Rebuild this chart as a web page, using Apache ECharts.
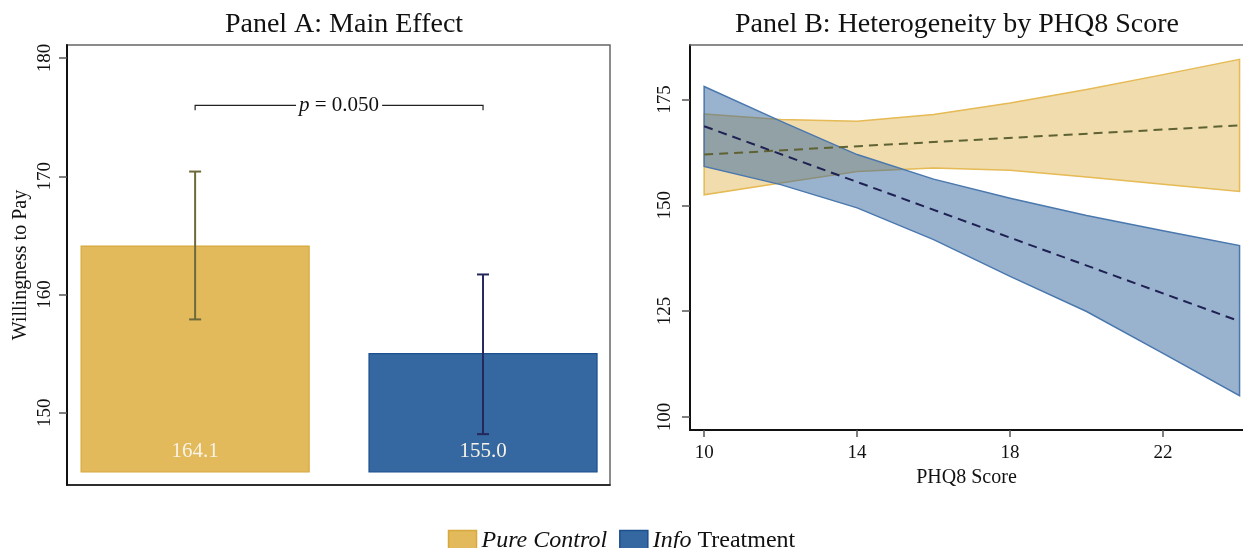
<!DOCTYPE html>
<html>
<head>
<meta charset="utf-8">
<script src="https://cdn.jsdelivr.net/npm/echarts@6/dist/echarts.min.js"></script>
<style>
  html, body { margin: 0; padding: 0; background: #fff; }
  #chart { width: 1243px; height: 548px; }
</style>
</head>
<body>
<div id="chart"></div>
<script>
// Panel A: means with 95% CI
const barGroups = ['Pure Control', 'Info Treatment'];
const barMeans = [164.1, 155.0];
const barCiLow = [157.9, 148.2];
const barCiHigh = [170.4, 161.7];
const barBase = 145;
const pValue = 0.050;
const bracketY = 176;
const yTicksA = [150, 160, 170, 180];

// Panel B: linear fit with CI by PHQ8 score
const phqX = [10, 12, 14, 16, 18, 20, 22, 24];
const controlUpper = [171.6, 170.3, 169.9, 171.5, 174.2, 177.4, 180.9, 184.5];
const controlLower = [152.5, 155.3, 158.0, 158.8, 158.3, 156.7, 155.0, 153.3];
const controlFit = [[10, 162.0], [24, 168.9]];
const treatUpper = [178.1, 169.9, 162.0, 156.2, 151.7, 147.6, 144.0, 140.5];
const treatLower = [159.2, 154.9, 149.4, 141.9, 133.2, 124.9, 115.0, 105.0];
const treatFit = [[10, 168.7], [24, 122.6]];
const xTicksB = [10, 14, 18, 22];
const yTicksB = [100, 125, 150, 175];

const FONT = 'Liberation Serif';
const gold = '#E2BA5C', goldEdge = '#D8A83C', goldCi = '#6C6A3A';
const blue = '#3568A0', blueEdge = '#1C4F8E', blueCi = '#25275A';
const barColors = [[gold, goldEdge], [blue, blueEdge]];
const ciColors = [goldCi, blueCi];

const chart = echarts.init(document.getElementById('chart'));

function barSeries(i) {
    return {
        name: barGroups[i],
        type: 'custom',
        xAxisIndex: 0, yAxisIndex: 0,
        itemStyle: {color: barColors[i][0], borderColor: barColors[i][1]},
        data: [[i, barMeans[i]]],
        renderItem: function (params, api) {
            const x = api.value(0), v = api.value(1);
            const half = 0.396;
            const p0 = api.coord([x - half, v]);
            const p1 = api.coord([x + half, barBase]);
            const mid = api.coord([x, barBase]);
            return {
                type: 'group',
                children: [{
                    type: 'rect',
                    shape: {x: p0[0], y: p0[1], width: p1[0] - p0[0], height: p1[1] - p0[1]},
                    style: {fill: barColors[i][0], stroke: barColors[i][1], lineWidth: 1.2}
                }, {
                    type: 'text',
                    x: mid[0], y: mid[1] - 21,
                    style: {text: v.toFixed(1), fill: '#F8F3E6', font: '21px ' + FONT,
                        align: 'center', verticalAlign: 'middle'}
                }]
            };
        }
    };
}

function bandSeries(name, upper, lower, fill, stroke) {
    return {
        name: name,
        type: 'custom',
        xAxisIndex: 1, yAxisIndex: 1,
        itemStyle: {color: fill},
        data: phqX.map((x, k) => [x, lower[k], upper[k]]),
        renderItem: function (params, api) {
            if (params.dataIndex !== 0) return;
            const pts = [];
            phqX.forEach((x, k) => pts.push(api.coord([x, upper[k]])));
            for (let k = phqX.length - 1; k >= 0; k--) pts.push(api.coord([phqX[k], lower[k]]));
            return {
                type: 'polygon',
                shape: {points: pts},
                style: {fill: fill, stroke: stroke, lineWidth: 1.5}
            };
        }
    };
}

function fitSeries(name, data, color) {
    return {
        name: name,
        type: 'line',
        xAxisIndex: 1, yAxisIndex: 1,
        data: data,
        symbol: 'none',
        z: 5,
        lineStyle: {color: color, width: 2, type: [9, 6]}
    };
}

const axisLab = {fontFamily: FONT, fontSize: 19, color: '#111'};

chart.setOption({
    animation: false,
    title: [{
        text: 'Panel A: Main Effect', left: 339, top: 6, textAlign: 'center',
        textStyle: {fontFamily: FONT, fontSize: 28, fontWeight: 'normal', color: '#111'}
    }, {
        text: 'Panel B: Heterogeneity by PHQ8 Score', left: 952, top: 6, textAlign: 'center',
        textStyle: {fontFamily: FONT, fontSize: 28, fontWeight: 'normal', color: '#111'}
    }],
    legend: {
        top: 524, left: 'center',
        itemWidth: 28, itemHeight: 21, itemGap: 12,
        icon: 'rect',
        data: [
            {name: barGroups[0], itemStyle: {color: gold, borderColor: goldEdge, borderWidth: 1.5}},
            {name: barGroups[1], itemStyle: {color: blue, borderColor: blueEdge, borderWidth: 1.5}}
        ],
        formatter: function (name) {
            return name === 'Pure Control' ? '{i|Pure Control}' : '{i|Info} Treatment';
        },
        textStyle: {
            fontFamily: FONT, fontSize: 24, color: '#111',
            rich: {i: {fontFamily: FONT, fontSize: 24, fontStyle: 'italic', color: '#111'}}
        }
    },
    grid: [
        {left: 67, right: 633, top: 45, bottom: 63, show: true, borderColor: '#666', borderWidth: 1.5, backgroundColor: 'transparent'},
        {left: 690, right: 0, top: 45, bottom: 118}
    ],
    xAxis: [{
        type: 'value', gridIndex: 0, min: -0.445, max: 1.441,
        splitLine: {show: false},
        axisLine: {show: true, onZero: false, lineStyle: {color: '#111', width: 1.5}},
        axisTick: {show: false}, axisLabel: {show: false}
    }, {
        type: 'value', gridIndex: 1, min: 9.63, max: 24.09,
        splitLine: {show: false},
        axisLine: {show: true, onZero: false, lineStyle: {color: '#111', width: 2}},
        axisTick: {show: true, length: 7, lineStyle: {color: '#555', width: 1.5}, customValues: xTicksB},
        axisLabel: Object.assign({margin: 14, customValues: xTicksB}, axisLab),
        name: 'PHQ8 Score', nameLocation: 'middle', nameGap: 36,
        nameTextStyle: {fontFamily: FONT, fontSize: 20, color: '#111'}
    }, {
        // top frame line of panel B
        type: 'value', gridIndex: 1, position: 'top', min: 9.63, max: 24.09,
        splitLine: {show: false},
        axisLine: {show: true, onZero: false, lineStyle: {color: '#666', width: 1.5}},
        axisTick: {show: false}, axisLabel: {show: false}
    }],
    yAxis: [{
        type: 'value', gridIndex: 0, min: 143.9, max: 181.1,
        splitLine: {show: false},
        axisLine: {show: true, onZero: false, lineStyle: {color: '#111', width: 2}},
        axisTick: {show: true, length: 8, lineStyle: {color: '#555', width: 1.5}, customValues: yTicksA},
        axisLabel: Object.assign({rotate: 90, margin: 12, customValues: yTicksA}, axisLab),
        name: 'Willingness to Pay', nameLocation: 'middle', nameGap: 36, nameRotate: 90,
        nameTextStyle: {fontFamily: FONT, fontSize: 20, color: '#111'}
    }, {
        type: 'value', gridIndex: 1, min: 96.9, max: 187.9,
        splitLine: {show: false},
        axisLine: {show: true, onZero: false, lineStyle: {color: '#111', width: 2}},
        axisTick: {show: true, length: 8, lineStyle: {color: '#555', width: 1.5}, customValues: yTicksB},
        axisLabel: Object.assign({rotate: 90, margin: 15, customValues: yTicksB}, axisLab)
    }],
    series: [
        barSeries(0),
        barSeries(1),
        {
            name: 'ci',
            type: 'custom',
            xAxisIndex: 0, yAxisIndex: 0,
            z: 4,
            data: barMeans.map((m, i) => [i, barCiLow[i], barCiHigh[i]]),
            renderItem: function (params, api) {
                const x = api.value(0);
                const lo = api.coord([x, api.value(1)]);
                const hi = api.coord([x, api.value(2)]);
                const c = ciColors[params.dataIndex];
                const st = {stroke: c, lineWidth: 2};
                return {
                    type: 'group',
                    children: [
                        {type: 'line', shape: {x1: lo[0], y1: lo[1], x2: hi[0], y2: hi[1]}, style: st},
                        {type: 'line', shape: {x1: hi[0] - 6, y1: hi[1], x2: hi[0] + 6, y2: hi[1]}, style: st},
                        {type: 'line', shape: {x1: lo[0] - 6, y1: lo[1], x2: lo[0] + 6, y2: lo[1]}, style: st}
                    ]
                };
            }
        },
        {
            name: 'bracket',
            type: 'custom',
            xAxisIndex: 0, yAxisIndex: 0,
            data: [[0, 1, bracketY]],
            renderItem: function (params, api) {
                const a = api.coord([api.value(0), api.value(2)]);
                const b = api.coord([api.value(1), api.value(2)]);
                const mid = (a[0] + b[0]) / 2;
                return {
                    type: 'group',
                    children: [{
                        type: 'polyline',
                        shape: {points: [[a[0], a[1] + 5], [a[0], a[1]], [b[0], b[1]], [b[0], b[1] + 5]]},
                        style: {stroke: '#222', lineWidth: 1.2, fill: null}
                    }, {
                        type: 'text',
                        x: mid, y: a[1],
                        style: {
                            text: '{i|p} = ' + pValue.toFixed(3),
                            font: '21px ' + FONT, fill: '#111',
                            align: 'center', verticalAlign: 'middle',
                            backgroundColor: '#fff', padding: [0, 3],
                            rich: {i: {fontStyle: 'italic', fontFamily: FONT, fontSize: 21}}
                        }
                    }]
                };
            }
        },
        bandSeries(barGroups[0], controlUpper, controlLower, 'rgba(226,186,92,0.5)', '#E6BA55'),
        bandSeries(barGroups[1], treatUpper, treatLower, 'rgba(52,104,160,0.5)', '#4A78AE'),
        fitSeries('Pure Control fit', controlFit, '#5F6233'),
        fitSeries('Info Treatment fit', treatFit, '#1F2152')
    ]
});
</script>
</body>
</html>
